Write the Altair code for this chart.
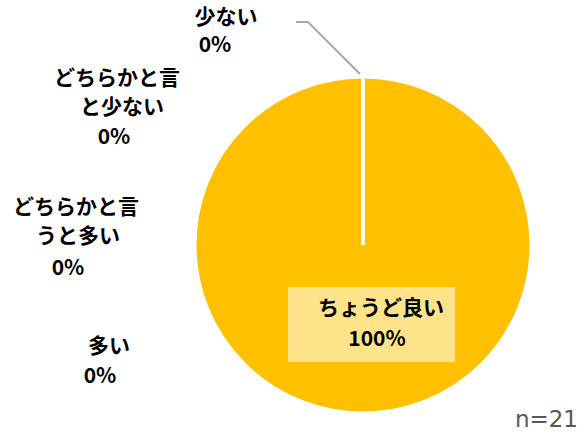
import altair as alt
import pandas as pd

# Data
categories = ["ちょうど良い", "少ない", "どちらかと言うと少ない", "どちらかと言うと多い", "多い"]
values = [100, 0, 0, 0, 0]
n_label = "n=21"

# Label layout (line texts and pixel positions)
label_lines = ["少ない", "0%", "どちらかと言", "と少ない", "0%",
               "どちらかと言", "うと多い", "0%", "多い", "0%",
               "ちょうど良い", "100%"]
label_x = [226, 215, 117, 122, 114, 76, 78, 68, 109, 100, 381, 377]
label_y = [18, 46, 79, 108, 138, 208, 237, 269, 347, 377, 309, 340]

leader_x = [296, 308, 360]
leader_y = [22, 22, 74]

W, H = 588, 436
CX, CY, R = 363, 245, 168

pie_df = pd.DataFrame({"cat": categories, "val": values, "order": list(range(len(values)))})
lab_df = pd.DataFrame({"t": label_lines, "x": label_x, "y": label_y})
lead_df = pd.DataFrame({"x": leader_x, "y": leader_y, "o": [0, 1, 2]})

pie = alt.Chart(pie_df).mark_arc(
    stroke="white", strokeWidth=3, outerRadius=R
).encode(
    theta=alt.Theta("val:Q", stack=True),
    order=alt.Order("order:Q"),
    color=alt.value("#FFC000"),
    x=alt.value(CX), y=alt.value(CY),
)

box = alt.Chart(pd.DataFrame({"a": [0]})).mark_rect(fill="#FFE38A").encode(
    x=alt.value(288), x2=alt.value(455), y=alt.value(287), y2=alt.value(362)
)

leader = alt.Chart(lead_df).mark_line(color="#A6A6A6", strokeWidth=2).encode(
    x=alt.X("x:Q", scale=None), y=alt.Y("y:Q", scale=None), order="o:Q"
)

labels = alt.Chart(lab_df).mark_text(
    font="Noto Sans CJK JP", fontWeight="bold", fontSize=21, color="#000000",
    align="center", baseline="middle"
).encode(
    x=alt.X("x:Q", scale=None), y=alt.Y("y:Q", scale=None), text="t:N"
)

nlab = alt.Chart(pd.DataFrame({"t": [n_label]})).mark_text(
    font="DejaVu Sans", fontSize=23, color="#595959", align="right", baseline="middle"
).encode(x=alt.value(578), y=alt.value(420), text="t:N")

chart = alt.layer(pie, box, leader, labels, nlab).properties(
    width=W, height=H, padding=0, autosize=alt.AutoSizeParams(type="none")
).configure_view(stroke=None).configure_axis(disable=True)

chart.save("out.html", embed_options={"renderer": "svg", "actions": False})
